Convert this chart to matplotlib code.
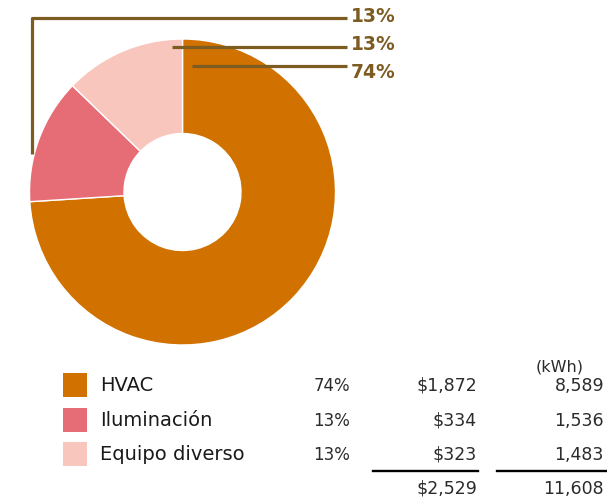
import matplotlib
matplotlib.use("Agg")
import matplotlib.pyplot as plt
from matplotlib.patches import Rectangle

# data
categories = ["HVAC", "Iluminación", "Equipo diverso"]
pct = [74, 13, 13]
cost = [1872, 334, 323]
kwh = [8589, 1536, 1483]
colors = ["#d07100", "#e66c75", "#f9c6bd"]

W, H = 607, 502
brown = "#7d5c22"
txt = "#2b2b2b"

fig = plt.figure(figsize=(W / 100, H / 100), dpi=100)
ax = fig.add_axes([0, 0, 1, 1])

# donut, clockwise from 12 o'clock
ax.pie(kwh, colors=colors, startangle=90, counterclock=False,
       center=(182.5, H - 193), radius=153,
       wedgeprops=dict(width=94.5, edgecolor="white", linewidth=1))
ax.set_xlim(0, W)
ax.set_ylim(0, H)
ax.set_aspect("equal")
ax.axis("off")

# leader lines (pixel layout, y from top)
leaders = {
    1: ([32, 32, 347], [155, 19, 19]),
    2: ([172, 347], [48, 48]),
    0: ([192, 347], [67, 67]),
}
label_y = {1: 17, 2: 45, 0: 72}
for i, (xs, ys) in leaders.items():
    ax.plot(xs, [H - y for y in ys], color=brown, lw=2.3, solid_capstyle="butt")
    ax.text(351, H - label_y[i], f"{pct[i]}%", color=brown, fontsize=13.5,
            fontweight="bold", ha="left", va="center")

# legend / table
row_y = [386, 421, 455]
sq = 24
ax.text(560, H - 367, "(kWh)", fontsize=11.5, color=txt, ha="center", va="center")
for i, name in enumerate(categories):
    y = H - row_y[i]
    ax.add_patch(Rectangle((63, y - sq / 2), sq, sq, facecolor=colors[i], edgecolor="none"))
    ax.text(100, y, name, fontsize=14, color="#1a1a1a", ha="left", va="center")
    ax.text(350, y, f"{pct[i]}%", fontsize=12, color=txt, ha="right", va="center")
    ax.text(477, y, f"${cost[i]:,}", fontsize=12.5, color=txt, ha="right", va="center")
    ax.text(604, y, f"{kwh[i]:,}", fontsize=12.5, color=txt, ha="right", va="center")

ax.plot([373, 478], [H - 472, H - 472], color="black", lw=1.7)
ax.plot([497, 607], [H - 472, H - 472], color="black", lw=1.7)
ax.text(477, H - 489, f"${sum(cost):,}", fontsize=12.5, color=txt, ha="right", va="center")
ax.text(604, H - 489, f"{sum(kwh):,}", fontsize=12.5, color=txt, ha="right", va="center")

fig.savefig("out.png", dpi=100)
